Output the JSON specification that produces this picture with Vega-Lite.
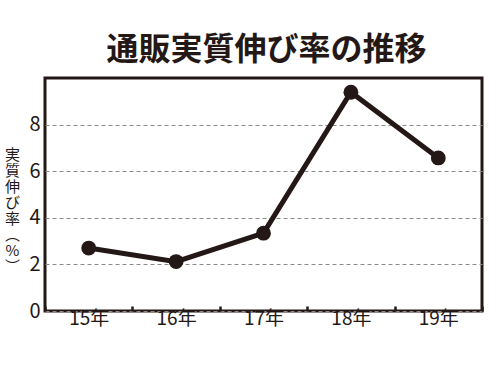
{
  "$schema": "https://vega.github.io/schema/vega-lite/v6.json",
  "autosize": "none",
  "width": 437,
  "height": 233,
  "padding": {"left": 45, "top": 78, "right": 18, "bottom": 64},
  "background": "white",
  "title": {
    "text": "通販実質伸び率の推移",
    "font": "Noto Sans CJK JP",
    "fontSize": 32,
    "fontWeight": "bold",
    "color": "#231815",
    "anchor": "middle",
    "baseline": "bottom",
    "offset": 12,
    "dy": 33,
    "dx": 3
  },
  "config": {
    "view": {"stroke": "#231815", "strokeWidth": 3},
    "font": "Noto Sans CJK JP"
  },
  "data": {
    "values": [
      {"year": "15年", "rate": 2.7},
      {"year": "16年", "rate": 2.12},
      {"year": "17年", "rate": 3.34},
      {"year": "18年", "rate": 9.39},
      {"year": "19年", "rate": 6.57}
    ]
  },
  "encoding": {
    "x": {
      "field": "year",
      "type": "nominal",
      "sort": null,
      "scale": {"type": "band", "paddingInner": 0, "paddingOuter": 0},
      "axis": {
        "title": null,
        "labelAngle": 0,
        "labelFont": "Noto Sans CJK JP",
        "labelFontSize": 19,
        "labelColor": "#231815",
        "labelPadding": 3,
        "domain": false,
        "tickBand": "extent",
        "tickSize": -5,
        "tickWidth": 2.5,
        "tickColor": "#231815",
        "grid": false
      }
    },
    "y": {
      "field": "rate",
      "type": "quantitative",
      "scale": {"domain": [0, 10], "nice": false},
      "axis": {
        "values": [0, 2, 4, 6, 8],
        "ticks": false,
        "domain": false,
        "labelFont": "Noto Sans CJK JP",
        "labelFontSize": 20,
        "labelColor": "#231815",
        "labelPadding": 5,
        "grid": true,
        "gridColor": "#8a8a8a",
        "gridDash": [4, 3],
        "gridWidth": 1,
        "title": ["実", "質", "伸", "び", "率", "︵", "%", "︶"],
        "titleFont": "Noto Sans CJK JP",
        "titleAngle": 0,
        "titleFontSize": 15,
        "titleFontWeight": "normal",
        "titleColor": "#231815",
        "titleLineHeight": 16,
        "titleAlign": "center",
        "titleBaseline": "top",
        "titleX": -33,
        "titleY": 69
      }
    }
  },
  "layer": [
    {"mark": {"type": "line", "color": "#231815", "strokeWidth": 5}},
    {"mark": {"type": "point", "filled": true, "opacity": 1, "color": "#231815", "size": 220}}
  ]
}
